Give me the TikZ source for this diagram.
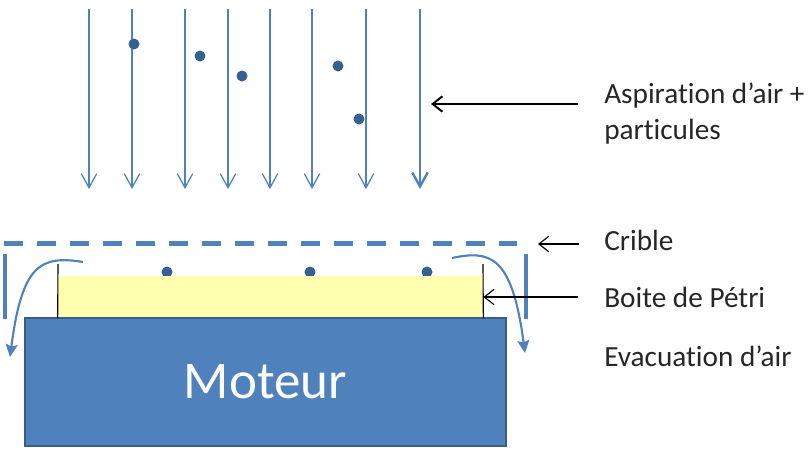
\documentclass[tikz,border=0pt]{standalone}
\usepackage{fontspec}
\setmainfont{Carlito}[Ligatures=NoCommon]
\definecolor{fluxblue}{RGB}{79,129,189}
\definecolor{dotblue}{RGB}{54,96,146}
\definecolor{motorline}{RGB}{56,93,138}
\definecolor{petri}{RGB}{255,255,176}
\usetikzlibrary{arrows.meta,positioning}

\begin{document}
\begin{tikzpicture}[
        x=0.025cm, y=-0.025cm,
        flux/.style={-{Straight Barb[length=10pt,width=11pt]}, line width=0.9pt, fluxblue},
        part/.style={circle, fill=dotblue, inner sep=0pt, minimum size=0.275cm},
        wall/.style={line width=3pt, fluxblue},
        exhaust/.style={-{Stealth[length=9pt,width=8.5pt,inset=1.5pt]}, line width=1.5pt, fluxblue},
        lab/.style={anchor=west, inner xsep=0.65cm, inner ysep=0pt, align=left, font=\fontsize{20.8}{25.5}\selectfont, text=black!85},
        ptr/.style={-{Straight Barb[length=7pt,width=11pt]}, line width=0.8pt, black}
      ]
        \useasboundingbox (0,0) rectangle (808,455);

        % Air flow
        \foreach \n/\x in {a/89, b/132, c/185, d/228, e/270, f/312, g/366}{
          \coordinate (top\n) at (\x,9);
          \coordinate (low\n) at (\x,189);
          \draw[flux] (top\n) -- (low\n);
        }
        \coordinate (toph) at (420,9);
        \coordinate (lowh) at (420,189);
        \draw[flux, line width=1.7pt] (toph) -- (lowh);

        % Particles
        \node[part] (p1) at (134,44) {};
        \node[part] (p2) at (200,56) {};
        \node[part] (p3) at (242,76) {};
        \node[part] (p4) at (338,66) {};
        \node[part] (p5) at (359,119) {};
        \node[part] (p6) at (167,272) {};
        \node[part] (p7) at (310,272) {};
        \node[part] (p8) at (427,272) {};

        % Sieve and side walls
        \coordinate (sieveL) at (4,243.5);
        \coordinate (sieveR) at (517,243.5);
        \draw[line width=3pt, fluxblue, dash pattern=on 0.475cm off 0.35cm] (sieveL) -- (sieveR);
        \coordinate (wallLt) at (5,254);
        \coordinate (wallLb) at (5,319);
        \coordinate (wallRt) at (526,254);
        \coordinate (wallRb) at (526,319);
        \draw[wall] (wallLt) -- (wallLb);
        \draw[wall] (wallRt) -- (wallRb);

        % Dish and motor
        \node[fill=petri, minimum width=10.625cm, minimum height=1.05cm, inner sep=0pt] (dish) at (270.5,297) {};
        \node[fill=fluxblue, draw=motorline, line width=1pt, minimum width=12.025cm, minimum height=3.2cm, inner sep=0pt,
          text=white, font=\fontsize{37.7}{45}\selectfont] (motor) at (265.5,382) {Moteur};
        \coordinate (rimL) at (58,264);
        \coordinate (rimR) at (483,264);
        \draw[line width=0.8pt] (rimL) -- (dish.south west);
        \draw[line width=0.8pt] (rimR) -- (dish.south east);

        % Air exhaust
        \coordinate (outLa) at (83,262);
        \coordinate (outLb) at (10,357);
        \coordinate (outRa) at (452,258);
        \coordinate (outRb) at (525,353);
        \draw[exhaust] (outLa) .. controls (40,255) and (22,265) .. (outLb);
        \draw[exhaust] (outRa) .. controls (490,250) and (512,255) .. (outRb);

        % Labels
        \node[lab] (aspi) at (578,113.5) {Aspiration d’air +\\particules};
        \node[lab] (crib) at (578,240) {Crible};
        \node[lab] (boit) at (578,297) {Boite de Pétri};
        \node[lab] (evac) at (578,356) {Evacuation d’air};

        \coordinate (aspiTip) at (431,104);
        \coordinate (aspiEnd) at (578,104);
        \coordinate (cribTip) at (538,244);
        \coordinate (cribEnd) at (579,244);
        \draw[ptr, line width=1.4pt] (aspiEnd) -- (aspiTip);
        \draw[ptr] (cribEnd) -- (cribTip);
        \draw[ptr] (boit.west) -- (dish.east);
      \end{tikzpicture}
\end{document}
